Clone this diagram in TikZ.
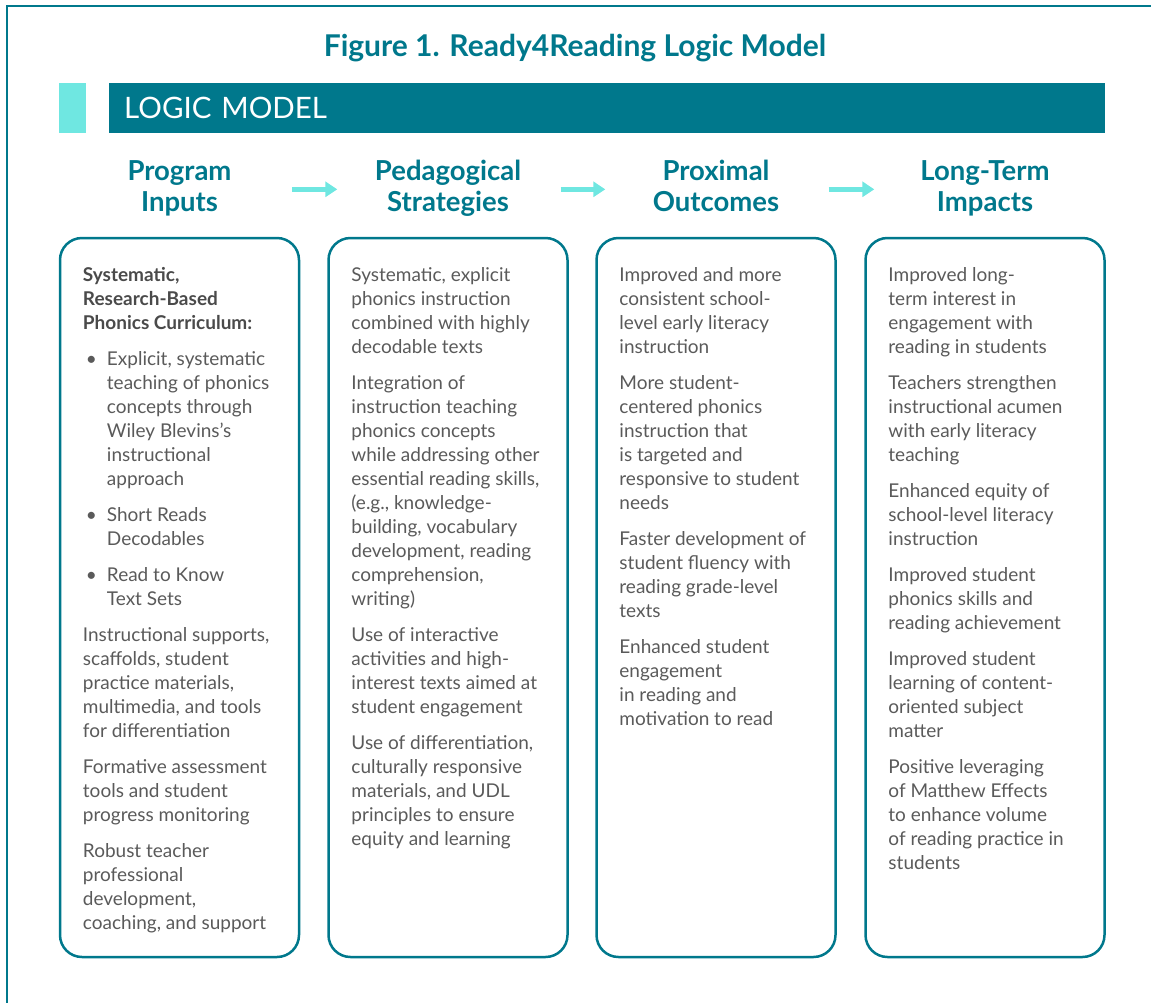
\documentclass[tikz,border=0pt]{standalone}
\usepackage{fontspec}
\setmainfont{Lato}
\usepackage{xcolor}
\usepackage{tikz}
\usetikzlibrary{positioning, arrows.meta}
\definecolor{r4teal}{HTML}{00788C}
\definecolor{r4aqua}{HTML}{6FE7E1}
\definecolor{r4gray}{HTML}{5A5A5A}
\definecolor{r4dark}{HTML}{4A4A4A}
\newcommand{\itm}{\makebox[24pt][l]{\hspace{3pt}\textbullet}}
\newcommand{\hang}{\hspace*{24pt}}
\newcommand{\lead}[1]{{\color{r4dark}\bfseries #1}}
\tikzset{
  frame/.style ={draw=r4teal, line width=2.5pt},
  col/.style   ={draw=r4teal, line width=2.5pt, rounded corners=22pt,
                 minimum width=239pt, minimum height=719pt, inner sep=0pt},
  head/.style  ={text=r4teal, font=\fontsize{27.5}{31}\selectfont\bfseries,
                 align=center, minimum width=213pt, inner sep=0pt},
  txt/.style   ={text=r4gray, font=\fontsize{19}{24}\selectfont,
                 align=left, inner sep=0pt, anchor=north west},
  flow/.style  ={-{Triangle[length=12pt, width=15pt]}, line width=5pt,
                 draw=r4aqua, shorten <=6pt, shorten >=4pt},
}

\begin{document}
\begin{tikzpicture}[x=1pt, y=-1pt]
  \useasboundingbox (0,0) rectangle (1151,1002);
  \draw[frame] (7,1010) -- (7,6) -- (1160,6);

  % title and banner
  \node[text=r4teal, font=\fontsize{30}{34}\selectfont\bfseries] (title) at (575,48) {Figure 1. Ready4Reading Logic Model};
  \node[fill=r4aqua, minimum width=27pt, minimum height=50pt, inner sep=0pt, anchor=north west] (tab) at (59,83) {};
  \node[fill=r4teal, text=white, font=\fontsize{29.5}{32}\selectfont, minimum height=50pt,
        text width=966pt, inner xsep=15pt, inner ysep=0pt, align=left, anchor=north west] (banner) at (109,83) {LOGIC MODEL};

  % column headings
  \node[head] (h1) at (179.5,189.3) {\strut Program\\\strut Inputs};
  \node[head] (h2) at (448,189.3)   {\strut Pedagogical\\\strut Strategies};
  \node[head] (h3) at (716,189.3)   {\strut Proximal\\\strut Outcomes};
  \node[head] (h4) at (985,189.3)   {\strut Long-Term\\\strut Impacts};
  \draw[flow] (h1) -- (h2);
  \draw[flow] (h2) -- (h3);
  \draw[flow] (h3) -- (h4);

  % columns
  \node[col] (box1) at (179.5,597.5) {};
  \node[col] (box2) at (448,597.5)   {};
  \node[col] (box3) at (716,597.5)   {};
  \node[col] (box4) at (985,597.5)   {};

  \node[txt, below right=28pt and 24pt of box1.north west] (t1) {%
    \strut\lead{Systematic,}\\ \lead{Research-Based}\\ \lead{Phonics Curriculum:}\\[12pt]
    \itm Explicit, systematic\\ \hang teaching of phonics\\ \hang concepts through\\
    \hang Wiley Blevins’s\\ \hang instructional\\ \hang approach\\[12pt]
    \itm Short Reads\\ \hang Decodables\\[12pt]
    \itm Read to Know\\ \hang Text Sets\\[12pt]
    Instructional supports,\\ scaffolds, student\\ practice materials,\\
    multimedia, and tools\\ for differentiation\\[12pt]
    Formative assessment\\ tools and student\\ progress monitoring\\[12pt]
    Robust teacher\\ professional\\ development,\\ coaching, and support};

  \node[txt, below right=28pt and 24pt of box2.north west] (t2) {%
    \strut Systematic, explicit\\ phonics instruction\\ combined with highly\\ decodable texts\\[12pt]
    Integration of\\ instruction teaching\\ phonics concepts\\ while addressing other\\
    essential reading skills,\\ (e.g., knowledge-\\ building, vocabulary\\
    development, reading\\ comprehension,\\ writing)\\[12pt]
    Use of interactive\\ activities and high-\\ interest texts aimed at\\ student engagement\\[12pt]
    Use of differentiation,\\ culturally responsive\\ materials, and UDL\\
    principles to ensure\\ equity and learning};

  \node[txt, below right=28pt and 24pt of box3.north west] (t3) {%
    \strut Improved and more\\ consistent school-\\ level early literacy\\ instruction\\[12pt]
    More student-\\ centered phonics\\ instruction that\\ is targeted and\\
    responsive to student\\ needs\\[12pt]
    Faster development of\\ student fluency with\\ reading grade-level\\ texts\\[12pt]
    Enhanced student\\ engagement\\ in reading and\\ motivation to read};

  \node[txt, below right=28pt and 24pt of box4.north west] (t4) {%
    \strut Improved long-\\ term interest in\\ engagement with\\ reading in students\\[12pt]
    Teachers strengthen\\ instructional acumen\\ with early literacy\\ teaching\\[12pt]
    Enhanced equity of\\ school-level literacy\\ instruction\\[12pt]
    Improved student\\ phonics skills and\\ reading achievement\\[12pt]
    Improved student\\ learning of content-\\ oriented subject\\ matter\\[12pt]
    Positive leveraging\\ of Matthew Effects\\ to enhance volume\\
    of reading practice in\\ students};
\end{tikzpicture}
\end{document}
